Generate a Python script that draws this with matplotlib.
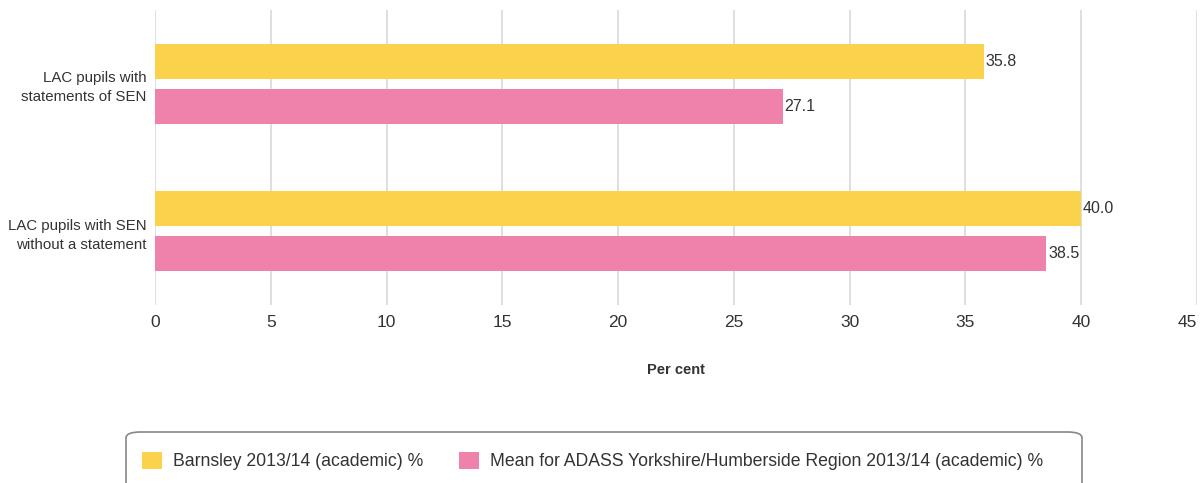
import numpy as np
import matplotlib.pyplot as plt
from matplotlib.patches import FancyBboxPatch, Patch

plt.rcParams['font.family'] = ['Liberation Sans', 'DejaVu Sans']

# Data
categories = ['LAC pupils with\nstatements of SEN', 'LAC pupils with SEN\nwithout a statement']
barnsley = [35.8, 40.0]
regional = [27.1, 38.5]
series_names = ['Barnsley 2013/14 (academic) %',
                'Mean for ADASS Yorkshire/Humberside Region 2013/14 (academic) %']
x_ticks = [0, 5, 10, 15, 20, 25, 30, 35, 40, 45]

yellow = '#FAD24C'
pink = '#EE82AB'
grid_col = '#d9d9d9'
text_col = '#333333'

W, H = 1204, 483
fig = plt.figure(figsize=(W / 100, H / 100), dpi=100)
ax = fig.add_axes([155 / W, 1 - 305 / H, (1197 - 155) / W, (305 - 10) / H])

y = np.arange(len(categories))
bh = 0.237
off = 0.152
b1 = ax.barh(y - off, barnsley, height=bh, color=yellow, label=series_names[0], zorder=3)
b2 = ax.barh(y + off, regional, height=bh, color=pink, label=series_names[1], zorder=3)

for bars, vals in ((b1, barnsley), (b2, regional)):
    for r, v in zip(bars, vals):
        ax.text(v + 0.08, r.get_y() + r.get_height() / 2, f'{v:.1f}',
                va='center', ha='left', fontsize=11.5, color=text_col, zorder=4)

ax.set_xlim(0, 45)
ax.set_ylim(len(categories) - 0.5, -0.5)
ax.set_xticks(x_ticks)
ax.set_xticklabels([str(t) for t in x_ticks], fontsize=12.5, color=text_col)
# last tick label sits inside the plot edge
ax.get_xticklabels()[-1].set_horizontalalignment('right')
ax.set_yticks(y)
ax.set_yticklabels(categories, fontsize=10.8, color=text_col, linespacing=1.45)
ax.tick_params(axis='x', length=0, pad=7)
ax.tick_params(axis='y', length=0, pad=6)
ax.grid(axis='x', color=grid_col, linewidth=1.2, zorder=0)
for s in ax.spines.values():
    s.set_visible(False)

ax.set_xlabel('Per cent', fontsize=10.5, fontweight='bold', color=text_col, labelpad=24)

# legend frame (runs off the bottom edge)
frame = FancyBboxPatch((126 / W, -20 / H), (1082 - 126) / W, (H - 432 + 20) / H,
                       boxstyle='round,pad=0,rounding_size=0.012', transform=fig.transFigure,
                       facecolor='white', edgecolor='#888888', linewidth=1.2)
fig.patches.append(frame)

handles = [Patch(facecolor=yellow), Patch(facecolor=pink)]
fig.legend(handles, series_names, loc='center left', bbox_to_anchor=(126 / W, 1 - 461 / H),
           ncol=2, frameon=False, fontsize=12.7, handlelength=1.12, handleheight=1.12,
           handletextpad=0.62, columnspacing=2.05, labelcolor=text_col)

fig.savefig('out.png', dpi=100)
